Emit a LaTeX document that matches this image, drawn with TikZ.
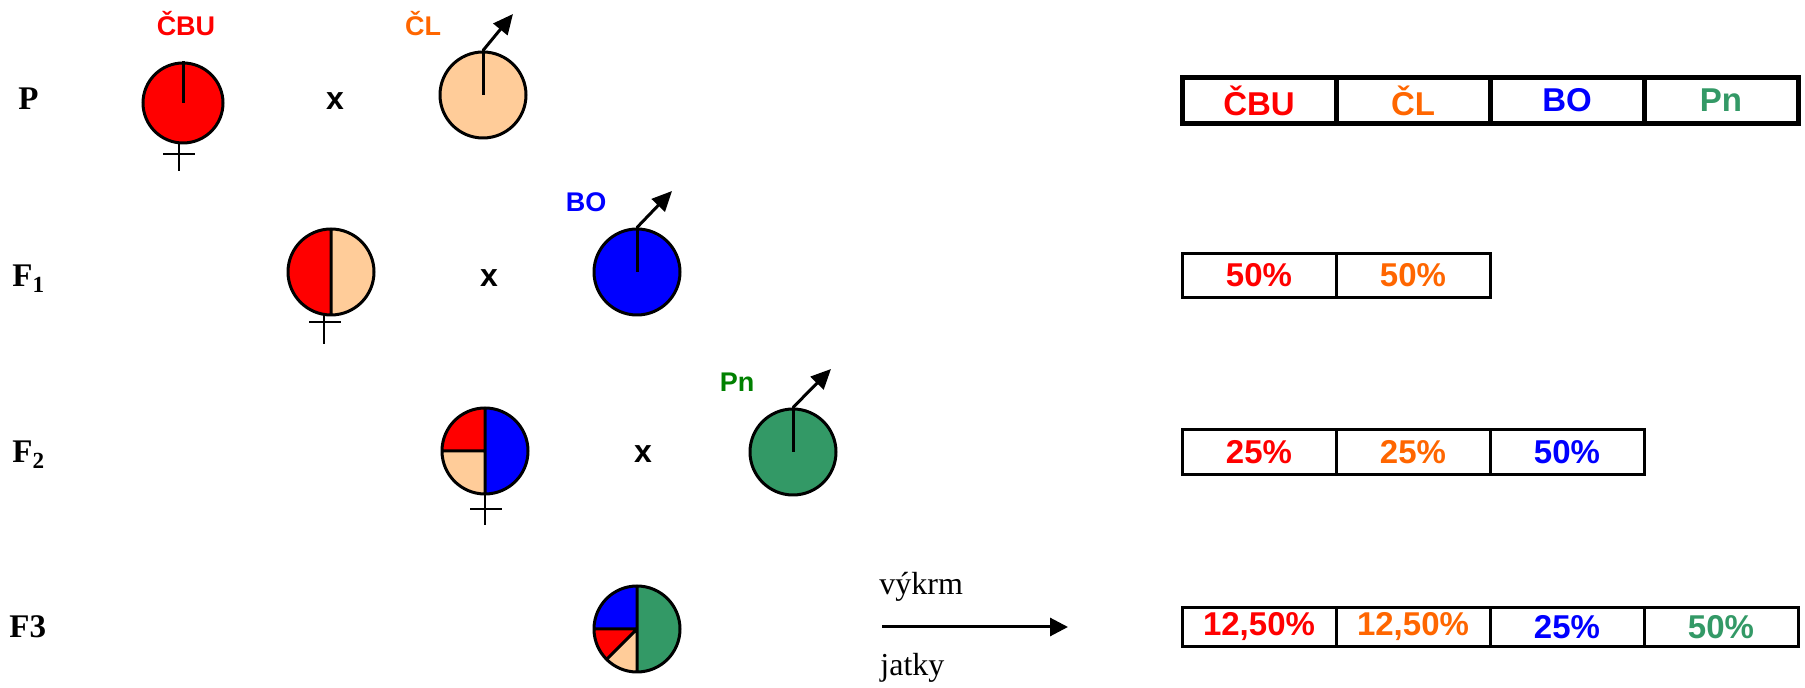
\documentclass[tikz,border=0pt]{standalone}
\usepackage{fontspec}
\setmainfont{Liberation Serif}
\setsansfont{Liberation Sans}
\usetikzlibrary{arrows.meta}
\definecolor{cbu}{RGB}{255,0,0}
\definecolor{clfill}{RGB}{255,204,153}
\definecolor{cltext}{RGB}{255,102,0}
\definecolor{bo}{RGB}{0,0,255}
\definecolor{pn}{RGB}{51,153,102}
\definecolor{pntext}{RGB}{0,128,0}
\tikzset{
  animal/.style={circle,draw,line width=1.5pt,minimum size=43pt,inner sep=0pt},
  male/.style={line width=1.5pt,-{Triangle[length=10pt,width=9pt]}},
  female/.style={line width=1pt},
  gen/.style={font=\bfseries\fontsize{16.5}{19}\selectfont,anchor=base west,inner sep=0pt},
  breed/.style={font=\sffamily\bfseries\fontsize{13.5}{16}\selectfont,anchor=base,inner sep=0pt},
  cross/.style={font=\sffamily\bfseries\fontsize{16}{19}\selectfont,anchor=base,inner sep=0pt},
  cell/.style={draw,line width=1.5pt,minimum width=77pt,minimum height=22pt,inner sep=0pt,font=\sffamily\bfseries\fontsize{16.5}{19}\selectfont},
  headcell/.style={cell,line width=2.5pt,minimum height=23pt},
  note/.style={font=\fontsize{16}{19}\selectfont,anchor=base west,inner sep=0pt}
}
\begin{document}
\begin{tikzpicture}[x=0.5pt,y=-0.5pt]
\useasboundingbox (0,0) rectangle (1805,688);
% P
\node[gen] (p) at (18,110) {P};
\node[animal,fill=cbu,minimum size=40pt] (pcbu) at (183,103) {};
\draw[line width=1.5pt] (pcbu.center) -- (pcbu.north);
\draw[female] ([xshift=-2pt]pcbu.south) -- ++(0,27) ([xshift=-2pt]pcbu.south) ++(-16,10) -- ++(32,0);
\node[breed,text=cbu] (lcbu) at (186,36) {ČBU};
\node[cross] (x1) at (335,110) {x};
\node[animal,fill=clfill] (pcl) at (483,95) {};
\draw[line width=1.5pt] (pcl.center) -- (pcl.north);
\coordinate (clend) at (513,14);
\draw[male] (pcl.north) -- (clend);
\node[breed,text=cltext] (lcl) at (423,36) {ČL};
% F1
\node[gen] (f1) at (12,287) {F\textsubscript{1}};
\coordinate (f1c) at (331,272);
\fill[cbu] (f1c) ++(90:43) arc[start angle=90,end angle=270,radius=43] -- cycle;
\fill[clfill] (f1c) ++(-90:43) arc[start angle=-90,end angle=90,radius=43] -- cycle;
\draw[line width=1.5pt] (f1c) circle[radius=43] (f1c) ++(0,-43) -- ++(0,86);
\draw[female] (f1c) ++(-7,44) -- ++(0,28) (f1c) ++(-22,50) -- ++(32,0);
\node[cross] (x2) at (489,287) {x};
\node[animal,fill=bo] (pbo) at (637,272) {};
\draw[line width=1.5pt] (pbo.center) -- (pbo.north);
\coordinate (boend) at (672,191);
\draw[male] (pbo.north) -- (boend);
\node[breed,text=bo] (lbo) at (586,212) {BO};
% F2
\node[gen] (f2) at (12,463) {F\textsubscript{2}};
\coordinate (f2c) at (485,451);
\fill[bo] (f2c) ++(90:43) arc[start angle=90,end angle=-90,radius=43] -- cycle;
\fill[cbu] (f2c) -- ++(180:43) arc[start angle=180,end angle=270,radius=43] -- cycle;
\fill[clfill] (f2c) -- ++(90:43) arc[start angle=90,end angle=180,radius=43] -- cycle;
\draw[line width=1.5pt] (f2c) circle[radius=43] (f2c) ++(0,-43) -- ++(0,86) (f2c) -- ++(-43,0);
\draw[female] (f2c) ++(0,44) -- ++(0,30) (f2c) ++(-15,58) -- ++(32,0);
\node[cross] (x3) at (643,463) {x};
\node[animal,fill=pn] (ppn) at (793,452) {};
\draw[line width=1.5pt] (ppn.center) -- (ppn.north);
\coordinate (pnend) at (831,369);
\draw[male] (ppn.north) -- (pnend);
\node[breed,text=pntext] (lpn) at (737,392) {Pn};
% F3
\node[gen] (f3) at (9,638) {F3};
\coordinate (f3c) at (637,629);
\fill[pn] (f3c) ++(90:43) arc[start angle=90,end angle=-90,radius=43] -- cycle;
\fill[bo] (f3c) -- ++(180:43) arc[start angle=180,end angle=270,radius=43] -- cycle;
\fill[cbu] (f3c) -- ++(135:43) arc[start angle=135,end angle=180,radius=43] -- cycle;
\fill[clfill] (f3c) -- ++(90:43) arc[start angle=90,end angle=135,radius=43] -- cycle;
\draw[line width=1.5pt] (f3c) circle[radius=43] (f3c) ++(0,-43) -- ++(0,86) (f3c) -- ++(-43,0) (f3c) -- ++(135:43);
\node[note] (vykrm) at (879,595) {výkrm};
\coordinate (arrstart) at (882,627);
\coordinate (arrend) at (1068,627);
\draw[line width=1.5pt,-{Triangle[length=9pt,width=9pt]}] (arrstart) -- (arrend);
\node[note] (jatky) at (880,676) {jatky};
% tables
\node[headcell,text=cbu] (h1) at (1259,100.5) {ČBU};
\node[headcell,text=cltext] (h2) at (1413,100.5) {ČL};
\node[headcell,text=bo] (h3) at (1567,100.5) {BO};
\node[headcell,text=pn] (h4) at (1721,100.5) {Pn};
\node[cell,text=cbu] (a1) at (1259,275.5) {50\%};
\node[cell,text=cltext] (a2) at (1413,275.5) {50\%};
\node[cell,text=cbu,minimum height=22.5pt] (b1) at (1259,452) {25\%};
\node[cell,text=cltext,minimum height=22.5pt] (b2) at (1413,452) {25\%};
\node[cell,text=bo,minimum height=22.5pt] (b3) at (1567,452) {50\%};
\node[cell,text=cbu,minimum height=19.5pt] (c1) at (1259,627) {12,50\%};
\node[cell,text=cltext,minimum height=19.5pt] (c2) at (1413,627) {12,50\%};
\node[cell,text=bo,minimum height=19.5pt] (c3) at (1567,627) {25\%};
\node[cell,text=pn,minimum height=19.5pt] (c4) at (1721,627) {50\%};
\end{tikzpicture}
\end{document}
